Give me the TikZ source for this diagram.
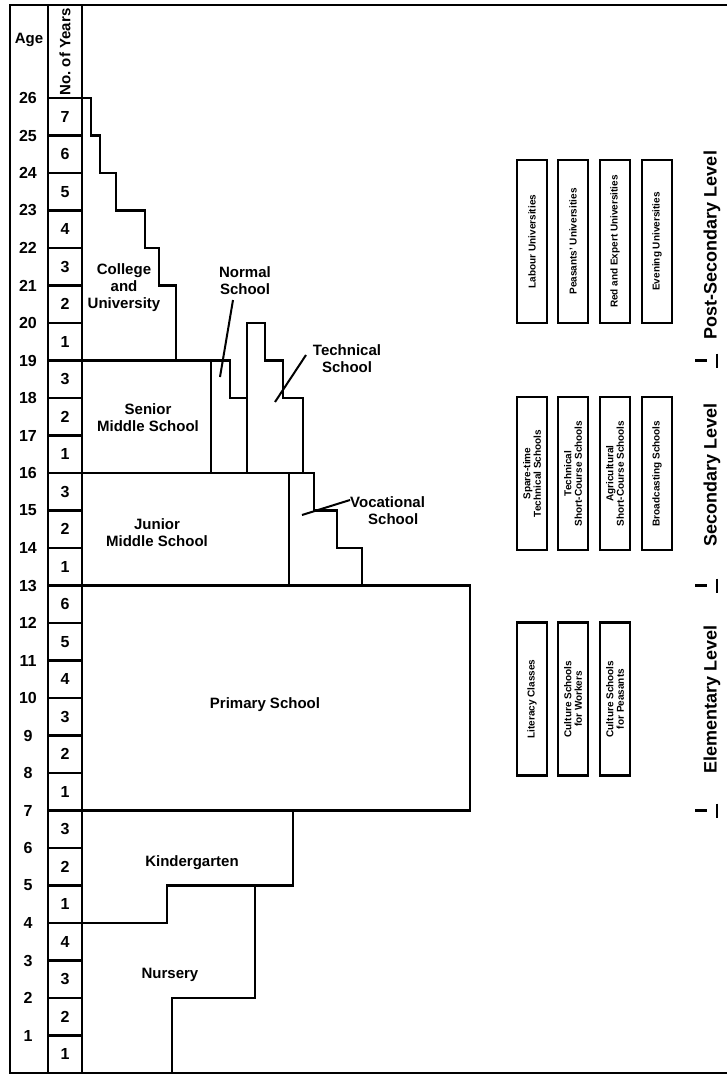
\documentclass[tikz,border=0pt]{standalone}
\usepackage{fontspec}
\setmainfont{Liberation Sans}
\begin{document}
\begin{tikzpicture}[x=1pt,y=-1pt,
  declare function={ya(\a)=1073-37.5*\a;},
  frame/.style={line width=2.8pt},
  outl/.style={line width=2.7pt, line join=miter},
  lead/.style={line width=2pt},
  lbl/.style={font=\fontsize{15}{17}\selectfont\bfseries, align=center, inner sep=0pt},
  agel/.style={font=\fontsize{16}{16}\selectfont\bfseries, inner sep=0pt},
  yrl/.style={font=\fontsize{16}{16}\selectfont\bfseries, inner sep=0pt},
  sbox/.style={draw, line width=2.2pt, rotate=90, minimum height=30pt, inner sep=1pt,
    align=center, font=\fontsize{10}{10.5}\selectfont\bfseries},
  lev/.style={rotate=90, font=\fontsize{18}{18}\selectfont\bfseries, inner sep=0pt}
]
\useasboundingbox (0,0) rectangle (727,1075);
% frame and columns
\draw[frame] (727,5) -- (10,5) -- (10,1073) -- (727,1073);
\draw[frame] (48,5) -- (48,1073);
\draw[frame] (82,5) -- (82,1073);
\node[lbl] (agehead) at (29,40) {Age};
\node[lbl, rotate=90] (yrhead) at (65,52) {No.\ of Years};
% age labels
\foreach \a in {2,...,26} {
  \node[agel] (age\a) at (28,{ya(\a)}) {\a};
}
\node[agel] (age1) at (28,{ya(1)}) {1};
% year separators
\foreach \a in {1,...,25} {
  \draw[outl, line width=2.2pt] (48,{ya(\a)}) -- (82,{ya(\a)});
}
% years numbers
\foreach \a/\n in {25/7,24/6,23/5,22/4,21/3,20/2,19/1,18/3,17/2,16/1,15/3,14/2,13/1,
  12/6,11/5,10/4,9/3,8/2,7/1,6/3,5/2,4/1,3/4,2/3,1/2,0/1} {
  \node[yrl] (yr\a) at (65,{ya(\a+0.5)}) {\n};
}
% College and University
\draw[outl] (48,{ya(26)}) -- (91,{ya(26)}) -- (91,{ya(25)}) -- (100,{ya(25)}) -- (100,{ya(24)})
  -- (116,{ya(24)}) -- (116,{ya(23)}) -- (145,{ya(23)}) -- (145,{ya(22)}) -- (159,{ya(22)})
  -- (159,{ya(21)}) -- (176,{ya(21)}) -- (176,{ya(19)});
% age 19 line, normal school
\draw[outl] (82,{ya(19)}) -- (230,{ya(19)}) -- (230,{ya(18)}) -- (247,{ya(18)}) -- (247,{ya(16)});
\draw[outl] (211,{ya(19)}) -- (211,{ya(16)});
% technical school
\draw[outl] (247,{ya(18)}) -- (247,{ya(20)}) -- (265,{ya(20)}) -- (265,{ya(19)}) -- (283,{ya(19)})
  -- (283,{ya(18)}) -- (303,{ya(18)}) -- (303,{ya(16)});
% age 16 line, vocational
\draw[outl] (82,{ya(16)}) -- (314,{ya(16)}) -- (314,{ya(15)}) -- (337,{ya(15)}) -- (337,{ya(14)})
  -- (362,{ya(14)}) -- (362,{ya(13)});
\draw[outl] (289,{ya(16)}) -- (289,{ya(13)});
% primary
\draw[outl] (82,{ya(13)}) -- (470,{ya(13)}) -- (470,{ya(7)}) -- (82,{ya(7)});
% kindergarten
\draw[outl] (293,{ya(7)}) -- (293,{ya(5)}) -- (167,{ya(5)}) -- (167,{ya(4)}) -- (82,{ya(4)});
% nursery
\draw[outl] (255,{ya(5)}) -- (255,{ya(2)}) -- (172,{ya(2)}) -- (172,{ya(0)});
% labels
\node[lbl] (college) at (124,288) {College\\and\\University};
\node[lbl] (senior) at (148,418) {Senior\\Middle School};
\node[lbl] (junior) at (157,533) {Junior\\Middle School};
\node[lbl] (normal) at (245,281) {Normal\\School};
\node[lbl] (technical) at (347,359) {Technical\\School};
\node[lbl, align=left, anchor=west] (vocational) at (350,511) {Vocational\\\hspace*{1.2em}School};
\node[lbl] (primary) at (265,705) {Primary School};
\node[lbl] (kinder) at (192,863) {Kindergarten};
\node[lbl] (nursery) at (170,975) {Nursery};
\coordinate (nend) at (220,377);
\coordinate (tend) at (275,402);
\coordinate (vend) at (302,515);
\draw[lead] (233,300) -- (nend);
\draw[lead] (306,355) -- (tend);
\draw[lead] (vocational.west |- 0,500) -- (vend);
% right boxes
\foreach \x/\t [count=\i] in {532/Labour Universities, 573/Peasants' Universities,
  615/Red and Expert Universities, 657/Evening Universities} {
  \node[sbox, minimum width=163pt] (p\i) at (\x,241.5) {\t};
}
\foreach \x/\t [count=\i] in {532/{Spare-time\\Technical Schools}, 573/{Technical\\Short-Course Schools},
  615/{Agricultural\\Short-Course Schools}, 657/{Broadcasting Schools}} {
  \node[sbox, minimum width=153pt] (s\i) at (\x,473.5) {\t};
}
\foreach \x/\t [count=\i] in {532/{Literacy Classes}, 573/{Culture Schools\\for Workers},
  615/{Culture Schools\\for Peasants}} {
  \node[sbox, minimum width=153pt] (e\i) at (\x,699) {\t};
}
% level labels
\node[lev] (lpost) at (712,245) {Post-Secondary Level};
\node[lev] (lsec) at (712,475) {Secondary Level};
\node[lev] (lelem) at (712,699) {Elementary Level};
\foreach \a in {19,13,7} {
  \draw[outl] (695,{ya(\a)}) -- (707,{ya(\a)});
  \draw[outl] (717,{ya(\a)-7}) -- (717,{ya(\a)+7});
}
\end{tikzpicture}
\end{document}
